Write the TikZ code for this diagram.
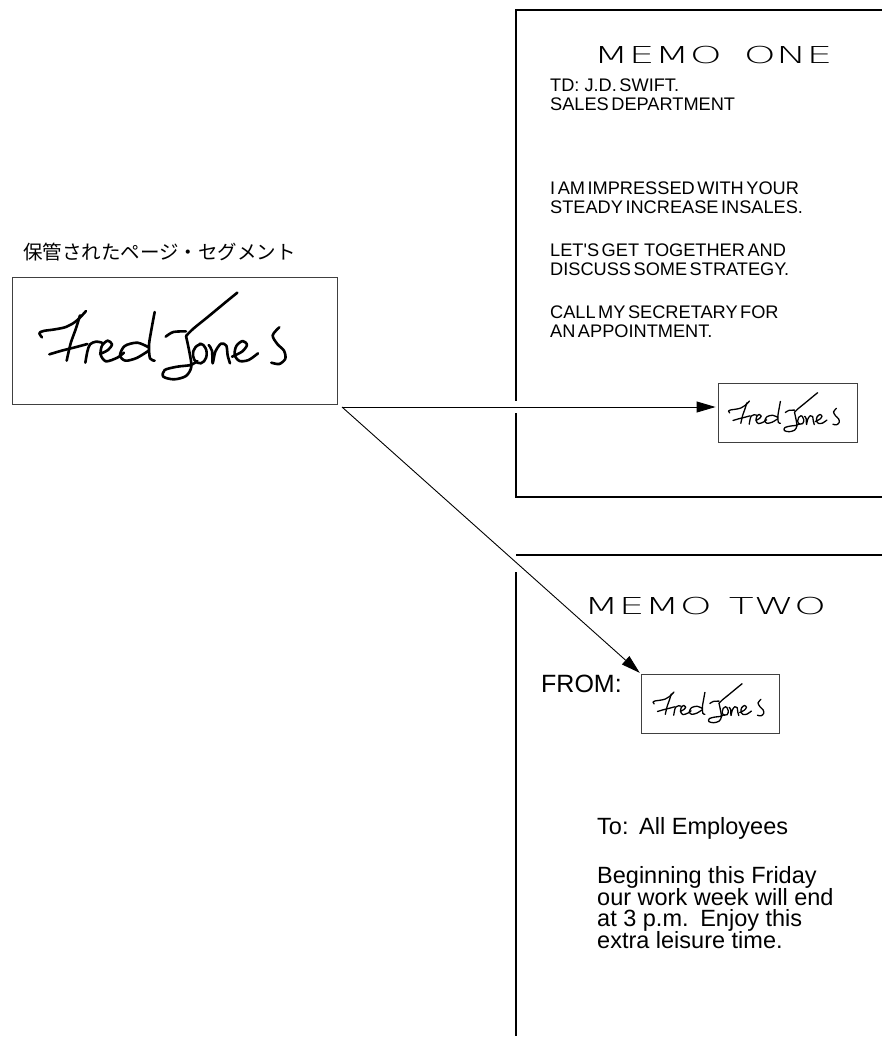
\documentclass[tikz,border=0pt]{standalone}
\usepackage{fontspec}
\setmainfont{Liberation Sans}
\newfontfamily\tightfont{Liberation Sans}[WordSpace=0.5]
\newfontfamily\thinfont{DejaVu Sans ExtraLight}[FakeStretch=1.75]
\newfontfamily\cjkfont{Noto Sans CJK JP}
\usetikzlibrary{arrows.meta}
\newcommand\fredsig{%
\draw plot[smooth,tension=0.6] coordinates {(126,322) (118,310) (130,303) (165,298) (200,290) (230,272) (258,243)};
\draw plot[smooth] coordinates {(240,256) (228,295) (212,340) (200,392)};
\draw plot[smooth] coordinates {(148,373) (185,362) (225,352) (262,342)};
\draw plot[smooth] coordinates {(256,398) (262,365) (270,343) (288,335) (306,338)};
\draw plot[smooth] coordinates {(300,372) (324,360) (336,343) (323,332) (306,347) (302,374) (318,394) (352,383) (372,368)};
\draw plot[smooth] coordinates {(446,352) (412,338) (374,348) (360,376) (376,392) (410,384) (446,362)};
\draw plot[smooth] coordinates {(464,246) (454,300) (447,345) (450,385) (464,392)};
\draw plot[smooth] coordinates {(497,320) (520,306) (558,304)};
\draw plot[smooth] coordinates {(712,188) (680,214) (622,262) (580,296) (558,318)};
\draw plot[smooth] coordinates {(558,318) (568,365) (574,410) (558,438) (522,448) (490,440) (494,420) (532,410) (572,405) (592,393)};
\draw plot[smooth,tension=0.8] coordinates {(605,342) (586,352) (579,377) (592,398) (612,394) (620,368) (610,345) (598,342)};
\draw plot[smooth] coordinates {(626,345) (636,362) (638,400) (646,365) (663,341) (679,347) (683,376) (690,400)};
\draw plot[smooth] coordinates {(696,380) (726,365) (741,345) (728,333) (709,348) (704,375) (719,393) (746,390) (774,370)};
\draw plot[smooth] coordinates {(838,292) (818,316) (832,342) (852,362) (856,386) (838,402) (814,398)};
}
\begin{document}
\begin{tikzpicture}[x=1pt,y=-1pt,
  frame/.style={line width=1.6pt, black},
  sigbox/.style={draw=black!75, line width=0.9pt, inner sep=0pt},
  body/.style={anchor=base west, inner sep=0pt, font=\tightfont\fontsize{18.2}{18.5}\selectfont},
  bodytwo/.style={anchor=base west, inner sep=0pt, font=\fontsize{23.5}{24}\selectfont},
  title/.style={inner sep=0pt, font=\thinfont\fontsize{23.3}{24}\selectfont},
  arr/.style={line width=0.9pt, -{Triangle[length=19pt,width=11pt]}},
  ink/.style={line cap=round, line join=round, black},
]
\useasboundingbox (0,0) rectangle (882,1039);
% memo frames
\draw[frame] (882,10) -- (516,10) -- (516,401);
\draw[frame] (516,413) -- (516,497) -- (882,497);
\draw[frame] (516,555) -- (882,555);
\draw[frame] (516,572) -- (516,1036);
% memo one
\node[title] (t1) at (713,55) {MEMO\hspace{9pt} ONE};
\node[body] (m1a) at (550,91.5) {TD:\ \ J.D.\ SWIFT.};
\node[body] (m1b) at (550,110) {SALES DEPARTMENT};
\node[body] (m1c) at (550,194.5) {I AM IMPRESSED WITH YOUR};
\node[body] (m1d) at (550,213) {STEADY INCREASE INSALES.};
\node[body] (m1e) at (550,256.5) {LET'S GET\ \ TOGETHER AND};
\node[body] (m1f) at (550,275) {DISCUSS SOME STRATEGY.};
\node[body] (m1g) at (550,318.5) {CALL MY SECRETARY FOR};
\node[body] (m1h) at (550,337) {AN APPOINTMENT.};
% memo two
\node[title] (t2) at (705,606) {MEMO\hspace{4pt} TWO};
\node[bodytwo, font=\fontsize{25}{26}\selectfont] (from) at (541,692) {FROM:};
\node[bodytwo] (m2a) at (597,834) {To:\hspace{2pt} All Employees};
\node[bodytwo] (m2b) at (597,883) {Beginning this Friday};
\node[bodytwo] (m2c) at (597,905) {our work week will end};
\node[bodytwo] (m2d) at (597,926.5) {at 3 p.m.\hspace{3pt} Enjoy this};
\node[bodytwo] (m2e) at (597,948) {extra leisure time.};
% stored segment
\node[anchor=west, inner sep=0pt, font=\cjkfont\fontsize{19.5}{20}\selectfont] (lbl) at (23,252.5) {保管されたページ・セグメント};
\node[sigbox, minimum width=325pt, minimum height=127pt] (big) at (174.5,340.5) {};
\node[sigbox, minimum width=139pt, minimum height=59pt] (s1) at (787.5,412.5) {};
\node[sigbox, minimum width=138pt, minimum height=59pt] (s2) at (710,703.5) {};
\begin{scope}[shift={(166,335.5)}, scale=0.3333, shift={(-498,-316.5)}, ink, line width=2.6pt]
\fredsig
\end{scope}
\begin{scope}[shift={(785.5,412)}, scale=0.15, shift={(-498,-316.5)}, ink, line width=1.3pt]
\fredsig
\end{scope}
\begin{scope}[shift={(710,703)}, scale=0.15, shift={(-498,-316.5)}, ink, line width=1.3pt]
\fredsig
\end{scope}
% connectors
\coordinate (src) at (342,407);
\draw[arr, shorten >=2pt] (src) -- (src -| s1.west);
\draw[arr, shorten >=1pt] (src) -- (s2.north west);
\end{tikzpicture}
\end{document}
